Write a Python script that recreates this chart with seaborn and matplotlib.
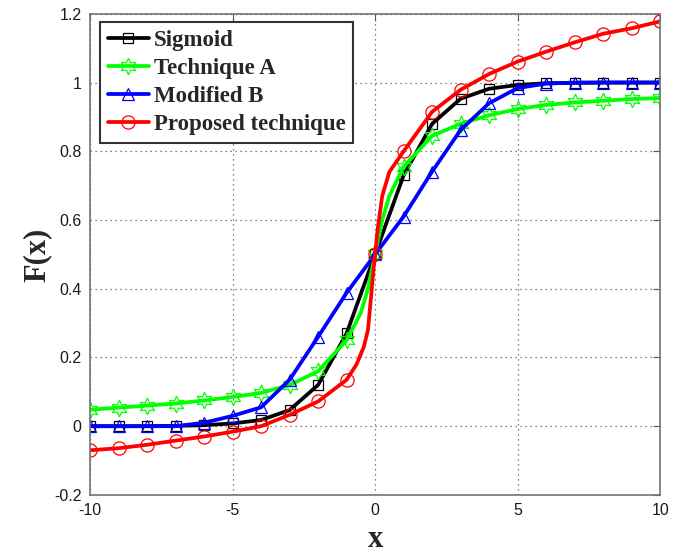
import numpy as np
import pandas as pd
import matplotlib.pyplot as plt
import seaborn as sns

# values at the marker positions (x = -10..10)
x = list(range(-10, 11))
sigmoid = [0.0, 0.0, 0.0, 0.001, 0.003, 0.008, 0.018, 0.047, 0.12, 0.27, 0.5,
           0.73, 0.88, 0.953, 0.982, 0.993, 0.998, 0.999, 1.0, 1.0, 1.0]
technique_a = [0.048, 0.054, 0.06, 0.066, 0.075, 0.085, 0.097, 0.12, 0.16, 0.25, 0.5,
               0.755, 0.845, 0.88, 0.905, 0.923, 0.935, 0.942, 0.947, 0.952, 0.955]
modified_b = [0.0, 0.0, 0.0, 0.0, 0.01, 0.03, 0.055, 0.135, 0.26, 0.388, 0.5,
              0.61, 0.741, 0.862, 0.94, 0.984, 0.997, 1.0, 1.0, 1.0, 1.0]
proposed = [-0.07, -0.064, -0.054, -0.042, -0.03, -0.016, 0.0, 0.033, 0.072, 0.135, 0.5,
            0.80, 0.915, 0.979, 1.025, 1.061, 1.09, 1.117, 1.142, 1.158, 1.178]

# extra points read from the steep middle part of the curves (no markers there)
technique_a_mid_x = [-0.5, -0.25, 0.25, 0.5]
technique_a_mid = [0.33, 0.40, 0.60, 0.67]
proposed_mid_x = [-0.65, -0.4, -0.25, -0.15, -0.05, 0.1, 0.25, 0.5]
proposed_mid = [0.18, 0.23, 0.28, 0.37, 0.46, 0.58, 0.67, 0.74]

labels = ['Sigmoid', 'Technique A', 'Modified B', 'Proposed technique']
colors = ['#000000', '#00ff00', '#0000ff', '#ff0000']
markers = ['s', (6, 1, 0), '^', 'o']
msizes = [7.5, 12, 8.5, 9.5]

sns.set_style('white')
plt.rcParams['font.family'] = ['Liberation Sans', 'DejaVu Sans']


def build(xs, ys, mx=(), my=()):
    df = pd.DataFrame({'x': list(xs) + list(mx), 'y': list(ys) + list(my),
                       'mark': [True] * len(xs) + [False] * len(mx)})
    df = df.sort_values('x').reset_index(drop=True)
    return df, list(df.index[df['mark']])


series = [build(x, sigmoid),
          build(x, technique_a, technique_a_mid_x, technique_a_mid),
          build(x, modified_b),
          build(x, proposed, proposed_mid_x, proposed_mid)]

fig, ax = plt.subplots(figsize=(6.82, 5.53), dpi=100)
fig.subplots_adjust(left=0.132, right=0.968, bottom=0.105, top=0.975)

for (df, idx), lab, c, m, ms in zip(series, labels, colors, markers, msizes):
    sns.lineplot(data=df, x='x', y='y', ax=ax, sort=False, color=c, linewidth=2.7,
                 marker=m, markevery=idx, markersize=ms, markerfacecolor='none',
                 markeredgecolor=c, markeredgewidth=0.9, label=lab)

ax.set_xlim(-10, 10)
ax.set_ylim(-0.2, 1.2)
ax.set_xticks([-10, -5, 0, 5, 10])
ax.set_xticklabels(['-10', '-5', '0', '5', '10'])
yt = [-0.2, 0, 0.2, 0.4, 0.6, 0.8, 1, 1.2]
ax.set_yticks(yt)
ax.set_yticklabels(['-0.2', '0', '0.2', '0.4', '0.6', '0.8', '1', '1.2'])
ax.tick_params(direction='in', top=True, right=True, length=5, width=0.8,
               labelsize=11.5, colors='0.35', labelcolor='0.1', pad=6)
ax.grid(True, linestyle=(0, (1, 3)), color='0.35', linewidth=0.9)
for s in ax.spines.values():
    s.set_color('0.45')
    s.set_linewidth(1.2)

ax.set_xlabel('x', fontsize=22, fontweight='bold', family='Liberation Serif', labelpad=5)
ax.set_ylabel('F(x)', fontsize=22, fontweight='bold', family='Liberation Serif', labelpad=2)

leg = ax.legend(loc='upper left', bbox_to_anchor=(0.017, 0.983), borderaxespad=0,
                fancybox=False, framealpha=1, edgecolor='0.2', handlelength=1.8,
                handletextpad=0.2, labelspacing=0.3, borderpad=0.35,
                prop={'family': 'Liberation Serif', 'weight': 'bold', 'size': 16.5})
leg.get_frame().set_linewidth(1.5)

plt.savefig('out.png', dpi=100)
